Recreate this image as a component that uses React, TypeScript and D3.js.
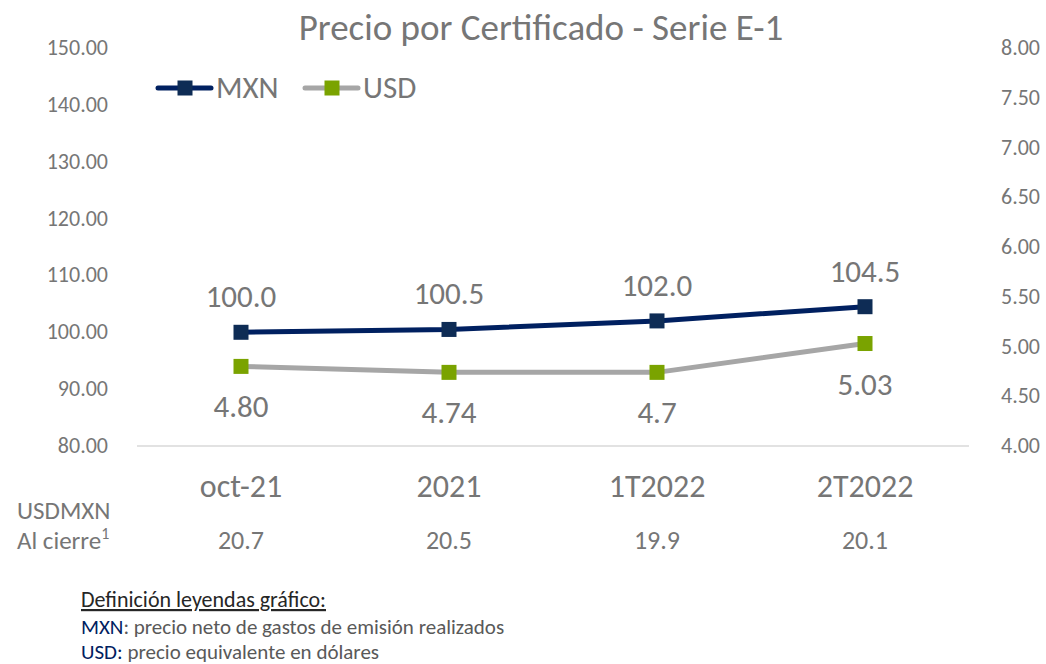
import { useEffect, useRef } from 'react'
import * as d3 from 'd3'

const categories = ['oct-21', '2021', '1T2022', '2T2022']
const mxnValues = [100.0, 100.5, 102.0, 104.5]
const mxnLabels = ['100.0', '100.5', '102.0', '104.5']
const usdValues = [4.8, 4.74, 4.74, 5.03]
const usdLabels = ['4.80', '4.74', '4.7', '5.03']
const fxValues = ['20.7', '20.5', '19.9', '20.1']
const leftTicks = [80, 90, 100, 110, 120, 130, 140, 150]
const rightTicks = [4, 4.5, 5, 5.5, 6, 6.5, 7, 7.5, 8]

const FONT = 'Calibri, Carlito, Lato, "Open Sans", sans-serif'
const NAVY = '#002060'
const NAVY_MARK = '#0E2C55'
const GRAY_LINE = '#A6A6A6'
const GREEN = '#7AA300'
const TEXT = '#767676'

export default function App() {
  const svgRef = useRef<SVGSVGElement | null>(null)
  const width = 1046
  const height = 664

  useEffect(() => {
    if (!svgRef.current) return
    const svg = d3.select(svgRef.current)
    svg.selectAll('*').remove()

    const x = d3.scaleBand<string>().domain(categories).range([137, 969])
    const cx = (c: string) => (x(c) ?? 0) + x.bandwidth() / 2
    const yL = d3.scaleLinear().domain([80, 150]).range([446, 48])
    const yR = d3.scaleLinear().domain([4, 8]).range([446, 48])

    // title
    svg.append('text')
      .attr('x', 541).attr('y', 40)
      .attr('text-anchor', 'middle')
      .attr('font-family', FONT).attr('font-size', 37)
      .attr('fill', TEXT)
      .text('Precio por Certificado - Serie E-1')

    // left axis labels
    svg.append('g').selectAll('text')
      .data(leftTicks)
      .join('text')
      .attr('x', 108).attr('y', d => yL(d) + 7)
      .attr('text-anchor', 'end')
      .attr('font-family', FONT).attr('font-size', 22)
      .attr('fill', TEXT)
      .text(d => d3.format('.2f')(d))

    // right axis labels
    svg.append('g').selectAll('text')
      .data(rightTicks)
      .join('text')
      .attr('x', 1040).attr('y', d => yR(d) + 7)
      .attr('text-anchor', 'end')
      .attr('font-family', FONT).attr('font-size', 22)
      .attr('fill', TEXT)
      .text(d => d3.format('.2f')(d))

    // baseline
    svg.append('line')
      .attr('x1', 137).attr('x2', 969)
      .attr('y1', yL(80)).attr('y2', yL(80))
      .attr('stroke', '#D9D9D9').attr('stroke-width', 1.5)

    // category labels
    svg.append('g').selectAll('text')
      .data(categories)
      .join('text')
      .attr('x', d => cx(d)).attr('y', 497)
      .attr('text-anchor', 'middle')
      .attr('font-family', FONT).attr('font-size', 32)
      .attr('fill', TEXT)
      .text(d => d)

    // lines
    const mxnLine = d3.line<number>()
      .x((_, i) => cx(categories[i]))
      .y(d => yL(d))
    const usdLine = d3.line<number>()
      .x((_, i) => cx(categories[i]))
      .y(d => yR(d))

    svg.append('path')
      .attr('d', usdLine(usdValues) ?? '')
      .attr('fill', 'none').attr('stroke', GRAY_LINE)
      .attr('stroke-width', 5).attr('stroke-linejoin', 'round')
    svg.append('path')
      .attr('d', mxnLine(mxnValues) ?? '')
      .attr('fill', 'none').attr('stroke', NAVY)
      .attr('stroke-width', 5).attr('stroke-linejoin', 'round')

    const ms = 15
    svg.append('g').selectAll('rect')
      .data(mxnValues)
      .join('rect')
      .attr('x', (_, i) => cx(categories[i]) - ms / 2)
      .attr('y', d => yL(d) - ms / 2)
      .attr('width', ms).attr('height', ms)
      .attr('fill', NAVY_MARK)
    svg.append('g').selectAll('rect')
      .data(usdValues)
      .join('rect')
      .attr('x', (_, i) => cx(categories[i]) - ms / 2)
      .attr('y', d => yR(d) - ms / 2)
      .attr('width', ms).attr('height', ms)
      .attr('fill', GREEN)

    // data labels
    svg.append('g').selectAll('text')
      .data(mxnValues)
      .join('text')
      .attr('x', (_, i) => cx(categories[i]))
      .attr('y', d => yL(d) - 25)
      .attr('text-anchor', 'middle')
      .attr('font-family', FONT).attr('font-size', 31)
      .attr('fill', TEXT)
      .text((_, i) => mxnLabels[i])
    svg.append('g').selectAll('text')
      .data(usdValues)
      .join('text')
      .attr('x', (_, i) => cx(categories[i]))
      .attr('y', d => yR(d) + 51)
      .attr('text-anchor', 'middle')
      .attr('font-family', FONT).attr('font-size', 31)
      .attr('fill', TEXT)
      .text((_, i) => usdLabels[i])

    // legend
    const legend = [
      { name: 'MXN', line: NAVY, mark: NAVY_MARK, x: 158 },
      { name: 'USD', line: GRAY_LINE, mark: GREEN, x: 305 },
    ]
    const lg = svg.append('g').selectAll('g').data(legend).join('g')
    lg.append('line')
      .attr('x1', d => d.x).attr('x2', d => d.x + 53)
      .attr('y1', 88).attr('y2', 88)
      .attr('stroke', d => d.line).attr('stroke-width', 5)
      .attr('stroke-linecap', 'round')
    lg.append('rect')
      .attr('x', d => d.x + 27 - ms / 2).attr('y', 88 - ms / 2)
      .attr('width', ms).attr('height', ms)
      .attr('fill', d => d.mark)
    lg.append('text')
      .attr('x', d => d.x + 58).attr('y', 98)
      .attr('font-family', FONT).attr('font-size', 31)
      .attr('fill', TEXT)
      .text(d => d.name)

    // USDMXN close row
    svg.append('text')
      .attr('x', 17).attr('y', 519)
      .attr('font-family', FONT).attr('font-size', 25)
      .attr('fill', TEXT)
      .text('USDMXN')
    const ac = svg.append('text')
      .attr('x', 17).attr('y', 549)
      .attr('font-family', FONT).attr('font-size', 25)
      .attr('fill', TEXT)
    ac.append('tspan').text('Al cierre')
    ac.append('tspan').attr('font-size', 16).attr('dy', -10).text('1')

    svg.append('g').selectAll('text')
      .data(fxValues)
      .join('text')
      .attr('x', (_, i) => cx(categories[i]))
      .attr('y', 549)
      .attr('text-anchor', 'middle')
      .attr('font-family', FONT).attr('font-size', 26)
      .attr('fill', TEXT)
      .text(d => d)

    // definitions
    svg.append('text')
      .attr('x', 81).attr('y', 607)
      .attr('font-family', FONT).attr('font-size', 22)
      .attr('fill', '#262626')
      .attr('text-decoration', 'underline')
      .text('Definición leyendas gráfico:')
    const d1 = svg.append('text')
      .attr('x', 81).attr('y', 634)
      .attr('font-family', FONT).attr('font-size', 21)
    d1.append('tspan').attr('fill', NAVY).text('MXN')
    d1.append('tspan').attr('fill', '#595959').text(': precio neto de gastos de emisión realizados')
    const d2 = svg.append('text')
      .attr('x', 81).attr('y', 659)
      .attr('font-family', FONT).attr('font-size', 21)
    d2.append('tspan').attr('fill', NAVY).text('USD:')
    d2.append('tspan').attr('fill', '#595959').text(' precio equivalente en dólares')
  }, [])

  return (
    <svg
      ref={svgRef}
      width={width}
      height={height}
      style={{ position: 'absolute', left: 0, top: 0, background: '#fff' }}
    />
  )
}
